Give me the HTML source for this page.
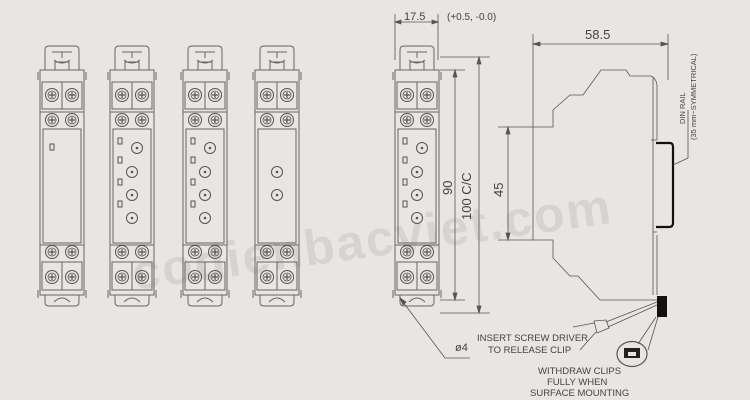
<!DOCTYPE html>
<html><head><style>
html,body{margin:0;padding:0;background:#e9e5e2;}
svg{display:block;}
text{font-family:"Liberation Sans",sans-serif;fill:#444;}
</style></head><body>
<svg width="750" height="400" viewBox="0 0 750 400" xmlns="http://www.w3.org/2000/svg">
<defs>
<g id="screw"><circle r="6.5" fill="none" stroke="#555" stroke-width="1"/><circle r="4" fill="none" stroke="#555" stroke-width="0.8"/><path d="M-3,0H3M0,-3V3" stroke="#555" stroke-width="1.2"/></g>
<g id="mod" fill="none" stroke="#666" stroke-width="1">
<path d="M5,70V50Q5,46 9,46H35Q39,46 39,50V70"/>
<path d="M12,52H32M22,52V58M14,60Q22,66 30,60"/>
<path d="M15,70V62H29V70"/>
<rect x="0" y="70" width="44" height="225"/>
<rect x="2" y="82" width="40" height="27"/><path d="M22,82V109"/>
<use href="#screw" x="12" y="95"/><use href="#screw" x="32" y="95"/>
<use href="#screw" x="12" y="120"/><use href="#screw" x="32" y="120"/>
<path d="M0,112H44M0,245H44"/>
<use href="#screw" x="12" y="252"/><use href="#screw" x="32" y="252"/>
<rect x="2" y="262" width="40" height="28"/><path d="M22,262V290"/>
<use href="#screw" x="12" y="277"/><use href="#screw" x="32" y="277"/>
<path d="M5,295V302Q5,306 9,306H35Q39,306 39,302V295"/>
<path d="M14,302Q22,294 30,302"/>
<path d="M-2,72V80M46,72V80M-2,290V298M46,290V298"/>
</g>
<g id="led" fill="none" stroke="#555"><rect x="-2" y="-3" width="4" height="6"/></g>
<g id="pot" fill="none" stroke="#555"><circle r="5.5"/><circle r="0.8" fill="#555"/></g>
<g id="panel4">
<rect x="3" y="129" width="38" height="114" fill="none" stroke="#666"/>
<use href="#led" x="10" y="141"/><use href="#led" x="10" y="160"/><use href="#led" x="10" y="182"/><use href="#led" x="10" y="204"/>
<use href="#pot" x="27" y="148"/><use href="#pot" x="22" y="172"/><use href="#pot" x="22" y="195"/><use href="#pot" x="22" y="218"/>
</g>
</defs>

<text x="128" y="258" font-size="50" font-weight="bold" style="fill:#d8d3d0" transform="rotate(-8 360 225)" letter-spacing="2">codienbacviet.com</text>

<g transform="translate(40,0)"><use href="#mod"/><rect x="3" y="129" width="38" height="114" fill="none" stroke="#666"/><use href="#led" x="12" y="147"/></g>
<g transform="translate(110,0)"><use href="#mod"/><use href="#panel4"/></g>
<g transform="translate(183,0)"><use href="#mod"/><use href="#panel4"/></g>
<g transform="translate(255,0)"><use href="#mod"/><rect x="3" y="129" width="38" height="114" fill="none" stroke="#666"/><use href="#pot" x="22" y="172"/><use href="#pot" x="22" y="195"/></g>
<g transform="translate(395,0)"><use href="#mod"/><use href="#panel4"/></g>

<g fill="none" stroke="#555" stroke-width="0.8">
<path d="M395,14V60M438,14V60M395,22H438"/>
<path d="M395,22l6,-2v4zM438,22l-6,-2v4z" fill="#555"/>
<path d="M440,70H465M440,300H465M455,70V300"/>
<path d="M455,70l-2,7h4zM455,300l-2,-7h4z" fill="#555"/>
<path d="M440,57H490M440,313H490M479,57V313"/>
<path d="M479,57l-2,7h4zM479,313l-2,-7h4z" fill="#555"/>
<path d="M498,127H533M498,240H533M508,127V240"/>
<path d="M508,127l-2,7h4zM508,240l-2,-7h4z" fill="#555"/>
<path d="M533,34V127M668,34V80M533,44H668"/>
<path d="M533,44l7,-2v4zM668,44l-7,-2v4z" fill="#555"/>
<path d="M400,298L445,358H470"/>
<path d="M400,298l3,7l3,-3z" fill="#555"/>
<path d="M533,127H553V110L570,95H583L601,70H626L630,76H651Q656,78 657,85V140"/>
<path d="M653,77V295M533,127V240H553V258L570,276H578L600,300H657"/>
<path d="M657,235V295"/>
<path d="M651,140H657M653,232H657"/>
</g>
<path d="M656,143H670Q673,143 673,147V223Q673,227 669,227H656" fill="none" stroke="#111" stroke-width="2.2"/>
<rect x="657" y="296" width="10" height="21" fill="#111"/>
<g fill="none" stroke="#555" stroke-width="0.8">
<path d="M673,165L688,158V110"/>
<path d="M657,302L606,322M657,305L608,327"/>
<path d="M594,321L606,320L609,328L597,333Z"/>
<path d="M594,323L573,327M596,332L580,350"/>
<path d="M656,317L638,344M658,317L648,350"/>
<ellipse cx="632" cy="354" rx="15" ry="12.5" stroke-width="1.2"/>
</g>
<rect x="624" y="348" width="16" height="10" fill="#222"/>
<rect x="628" y="352" width="8" height="4" fill="#e9e5e2"/>
<text x="455" y="351" font-size="11" fill="#444">ø4</text>
<text x="477" y="341" font-size="9.5">INSERT SCREW DRIVER</text>
<text x="488" y="353" font-size="9.5">TO RELEASE CLIP</text>
<text x="538" y="374" font-size="9.5">WITHDRAW CLIPS</text>
<text x="547" y="385" font-size="9.5">FULLY WHEN</text>
<text x="530" y="396" font-size="9.5">SURFACE MOUNTING</text>
<text x="404" y="20" font-size="11">17.5</text>
<text x="447" y="20" font-size="10">(+0.5, -0.0)</text>
<text x="585" y="39" font-size="13">58.5</text>
<text x="0" y="0" font-size="13" transform="translate(452,195) rotate(-90)">90</text>
<text x="0" y="0" font-size="13" transform="translate(471,220) rotate(-90)">100 C/C</text>
<text x="0" y="0" font-size="13" transform="translate(503,197) rotate(-90)">45</text>
<text x="0" y="0" font-size="7.5" transform="translate(685,124) rotate(-90)">DIN RAIL</text>
<text x="0" y="0" font-size="7.5" transform="translate(696,140) rotate(-90)">(35 mm−SYMMETRICAL)</text>
</svg>
</body></html>
